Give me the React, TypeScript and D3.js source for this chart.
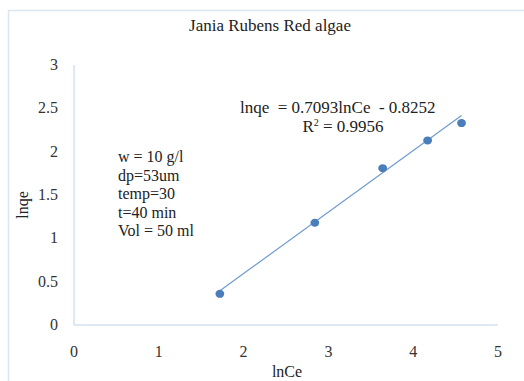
import React from 'react'
import * as d3 from 'd3'

// data
const lnCe = [1.72, 2.84, 3.64, 4.17, 4.57]
const lnqe = [0.36, 1.18, 1.81, 2.13, 2.33]
const xTicks = [0, 1, 2, 3, 4, 5]
const yTicks = [0, 0.5, 1, 1.5, 2, 2.5, 3]
const slope = 0.7093
const intercept = -0.8252
const notes = ['w = 10 g/l', 'dp=53um', 'temp=30', 't=40 min', 'Vol = 50 ml']

const W = 524
const H = 381
const font = "'Liberation Serif', 'Times New Roman', serif"

export default function App() {
  var x = d3.scaleLinear().domain([0, 5]).range([74, 498])
  var y = d3.scaleLinear().domain([0, 3]).range([325, 65])

  var x0 = d3.min(lnCe) as number
  var x1 = d3.max(lnCe) as number
  var trend = d3.line<number>()
    .x(d => x(d))
    .y(d => y(slope * d + intercept))([x0, x1])

  var txt = { fontFamily: font, whiteSpace: 'pre' as const }

  return (
    <svg width={W} height={H} style={{ position: 'absolute', left: 0, top: 0 }}>
      <rect x={0} y={0} width={W} height={H} fill='#fff' />
      {/* chart frame */}
      <rect x={8.5} y={10.5} width={W + 10} height={H + 10} fill='none' stroke='#dce6f1' strokeWidth={1.5} />

      <text x={270} y={31} textAnchor='middle' fontSize={17} fill='#222' style={txt}>Jania Rubens Red algae</text>

      {/* axes */}
      <line x1={x(0)} x2={x(0)} y1={y(3)} y2={y(0)} stroke='#bfd1ec' strokeWidth={1} />
      <line x1={x(0)} x2={x(5)} y1={y(0)} y2={y(0)} stroke='#bfd1ec' strokeWidth={1} />

      {yTicks.map(t => (
        <text key={'y' + t} x={58} y={y(t) + 5} textAnchor='end' fontSize={16} fill='#333' style={txt}>{t}</text>
      ))}
      {xTicks.map(t => (
        <text key={'x' + t} x={x(t)} y={357} textAnchor='middle' fontSize={16} fill='#333' style={txt}>{t}</text>
      ))}

      <text x={287} y={377} textAnchor='middle' fontSize={16} fill='#222' style={txt}>lnCe</text>
      <text transform='translate(28,205) rotate(-90)' textAnchor='middle' fontSize={16} fill='#222' style={txt}>lnqe</text>

      {/* trendline */}
      <path d={trend || ''} stroke='#6f9bd1' strokeWidth={1.2} fill='none' />

      {lnCe.map((d, i) => (
        <ellipse key={'p' + i} cx={x(d)} cy={y(lnqe[i])} rx={4.4} ry={4} fill='#4a7ebb' />
      ))}

      <text x={240} y={113} fontSize={17} fill='#222' style={txt}>
        {'lnqe  = 0.7093lnCe  - 0.8252'}
      </text>
      <text x={343} y={132} textAnchor='middle' fontSize={17} fill='#222' style={txt}>
        R<tspan fontSize={10} dy={-6}>2</tspan><tspan dy={6}> = 0.9956</tspan>
      </text>

      {notes.map(n => (
        <text key={n} x={118} y={162 + notes.indexOf(n) * 18.5} fontSize={16} fill='#222' style={txt}>{n}</text>
      ))}
    </svg>
  )
}
